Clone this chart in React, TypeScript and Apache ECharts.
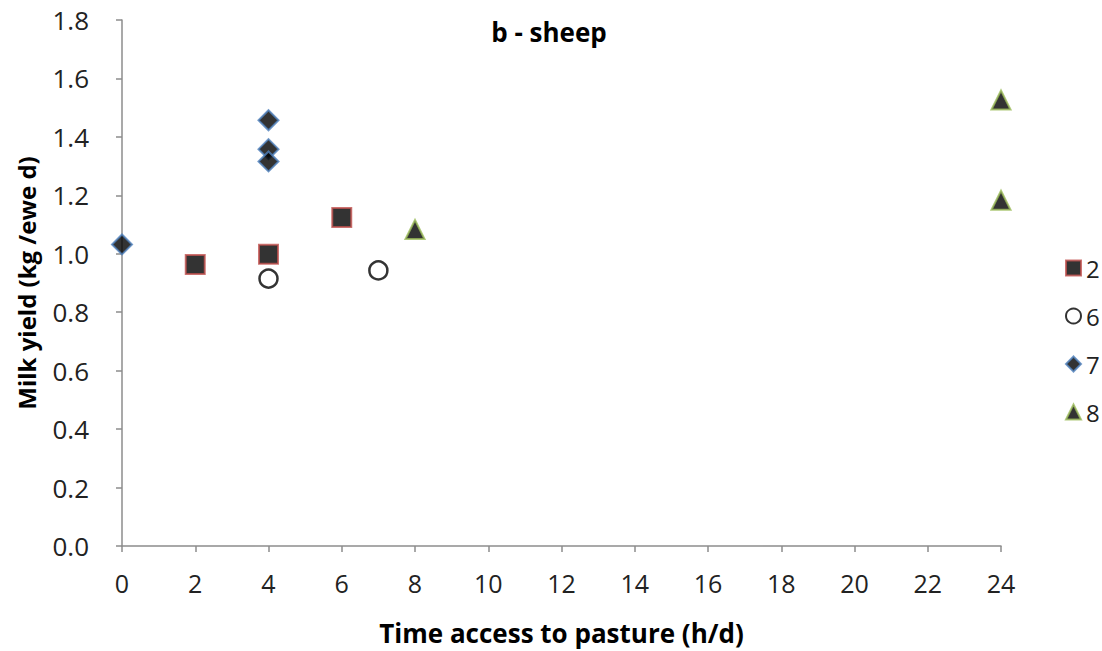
import React, { useEffect, useRef } from "react";
import * as echarts from "echarts";

const s2X = [2, 4, 6];
const s2Y = [0.963, 0.998, 1.124];
const s6X = [4, 7];
const s6Y = [0.915, 0.943];
const s7X = [0, 4, 4, 4];
const s7Y = [1.032, 1.457, 1.358, 1.316];
const s8X = [8, 24, 24];
const s8Y = [1.083, 1.526, 1.183];
const seriesNames = ["2", "6", "7", "8"];

const zip = (xs: number[], ys: number[]) => xs.map((x, i) => [x, ys[i]]);

const FONT = "Open Sans";

export default function App() {
  const ref = useRef<HTMLDivElement>(null);
  useEffect(() => {
    if (!ref.current) return;
    const chart = echarts.init(ref.current, null, { renderer: "svg" });
    chart.setOption({
      animation: false,
      backgroundColor: "#ffffff",
      title: {
        text: "b - sheep",
        left: 544,
        top: 14,
        textAlign: "center",
        textStyle: { fontFamily: FONT, fontSize: 26, fontWeight: "bold", color: "#000" },
      },
      grid: { left: 122, right: 101, top: 20, bottom: 100 },
      legend: {
        orient: "vertical",
        left: 1060,
        top: 251,
        itemGap: 24,
        itemWidth: 15,
        itemHeight: 15,
        data: [
          { name: seriesNames[0], icon: "rect" },
          { name: seriesNames[1], icon: "circle" },
          { name: seriesNames[2], icon: "diamond" },
          { name: seriesNames[3], icon: "triangle" },
        ],
        textStyle: { fontFamily: FONT, fontSize: 24, color: "#222" },
      },
      xAxis: {
        type: "value",
        min: 0,
        max: 24,
        interval: 2,
        name: "Time access to pasture (h/d)",
        nameLocation: "middle",
        nameGap: 74,
        nameTextStyle: { fontFamily: FONT, fontSize: 26, fontWeight: "bold", color: "#000" },
        axisLine: { show: true, lineStyle: { color: "#8c8c8c", width: 1.5 } },
        axisTick: { show: true, length: 6, lineStyle: { color: "#8c8c8c", width: 1.5 } },
        axisLabel: { fontFamily: FONT, fontSize: 25, color: "#222", margin: 24 },
        splitLine: { show: false },
      },
      yAxis: {
        type: "value",
        min: 0,
        max: 1.8,
        interval: 0.2,
        name: "Milk yield (kg /ewe d)",
        nameLocation: "middle",
        nameGap: 84,
        nameTextStyle: { fontFamily: FONT, fontSize: 24, fontWeight: "bold", color: "#000" },
        axisLine: { show: true, lineStyle: { color: "#8c8c8c", width: 1.5 } },
        axisTick: { show: true, length: 6, lineStyle: { color: "#8c8c8c", width: 1.5 } },
        axisLabel: {
          fontFamily: FONT,
          fontSize: 26,
          color: "#222",
          margin: 0,
          align: "right",
          padding: [0, 33, 0, 0],
          formatter: (v: number) => v.toFixed(1),
        },
        splitLine: { show: false },
      },
      series: [
        {
          name: seriesNames[0],
          type: "scatter",
          symbol: "rect",
          symbolSize: 19,
          data: zip(s2X, s2Y),
          itemStyle: { color: "#000", borderColor: "#c0504d", borderWidth: 2 },
        },
        {
          name: seriesNames[1],
          type: "scatter",
          symbol: "circle",
          symbolSize: 18,
          data: zip(s6X, s6Y),
          itemStyle: { color: "#fff", borderColor: "#000", borderWidth: 2.5 },
        },
        {
          name: seriesNames[2],
          type: "scatter",
          symbol: "diamond",
          symbolSize: 20,
          data: zip(s7X, s7Y),
          itemStyle: { color: "#000", borderColor: "#4f81bd", borderWidth: 2 },
        },
        {
          name: seriesNames[3],
          type: "scatter",
          symbol: "triangle",
          symbolSize: 19,
          data: zip(s8X, s8Y),
          itemStyle: { color: "#000", borderColor: "#9bbb59", borderWidth: 2 },
        },
      ],
    });
    return () => chart.dispose();
  }, []);
  return (
    <div
      ref={ref}
      style={{ position: "absolute", left: 0, top: 0, width: 1102, height: 651 }}
    />
  );
}
